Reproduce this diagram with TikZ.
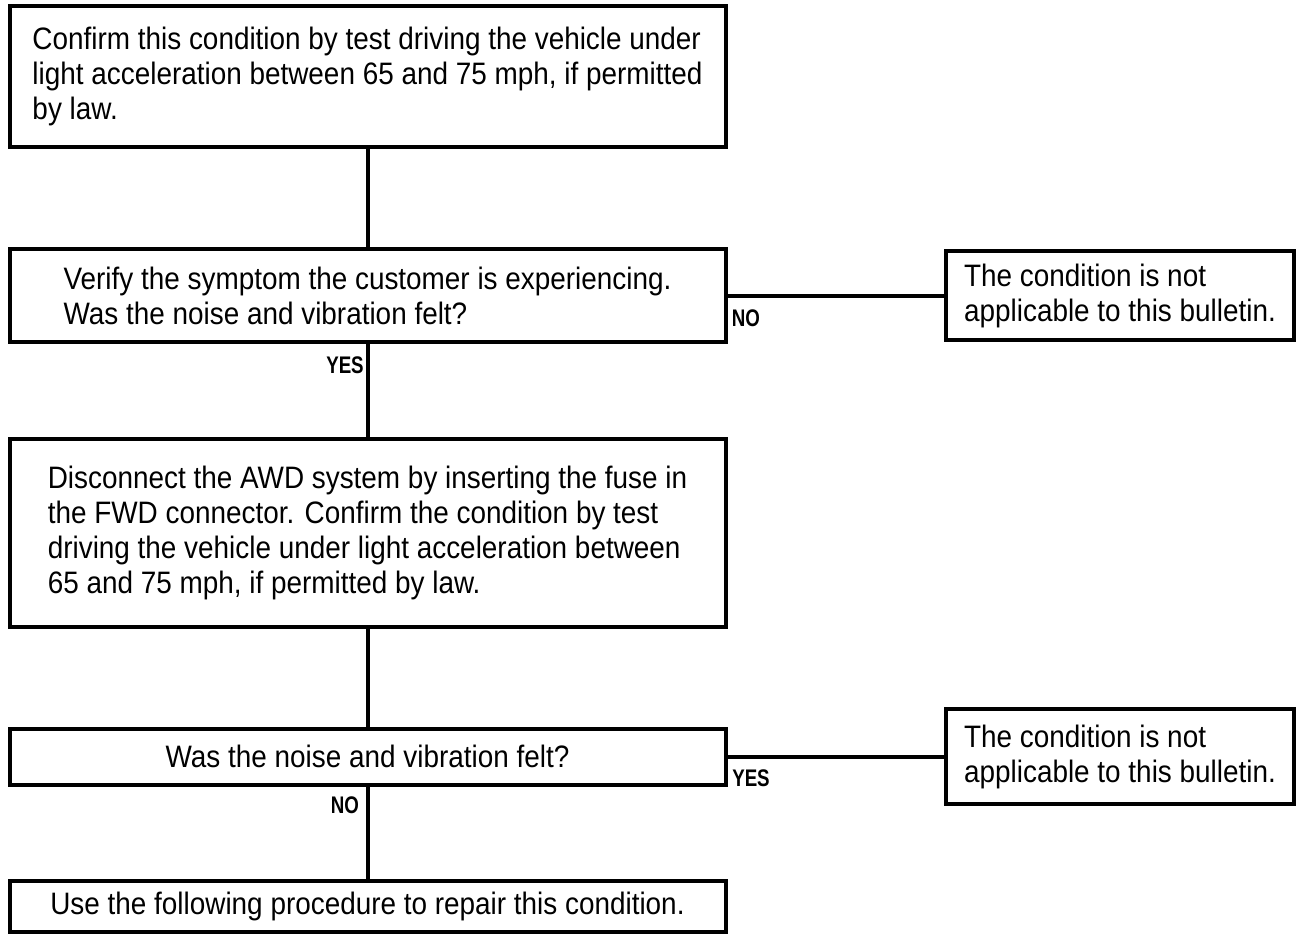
\documentclass[tikz,border=0pt]{standalone}
\usepackage{fontspec}
\setmainfont{Liberation Sans}[FakeStretch=0.9]
\newfontfamily\lblfont{Liberation Sans}[FakeStretch=0.78]
\usetikzlibrary{positioning}

\begin{document}
\begin{tikzpicture}[x=0.5pt, y=-0.5pt,
    stepbox/.style={rectangle, draw, line width=2pt, minimum width=358pt, align=left, inner sep=0pt, font=\fontsize{15.5}{17.5}\selectfont},
    sidebox/.style={stepbox, minimum width=174pt},
    lbl/.style={inner sep=0pt, font=\fontsize{12}{13}\selectfont\lblfont\bfseries},
    link/.style={line width=2pt}
]
\useasboundingbox (0,0) rectangle (1302,941);
\node[stepbox, minimum height=70.5pt] (confirm) at (367.5,76.5) {Confirm this condition by test driving the vehicle under\\light acceleration between 65 and 75 mph, if permitted\\by law.};
\node[stepbox, minimum height=46.5pt] (verify) at (367.5,296) {Verify the symptom the customer is experiencing.\\Was the noise and vibration felt?};
\node[sidebox, minimum height=44.5pt] (notapp1) at (1120,296) {The condition is not\\applicable to this bulletin.};
\node[stepbox, minimum height=94pt] (disconnect) at (367.5,533) {Disconnect the AWD system by inserting the fuse in\\the FWD connector. Confirm the condition by test\\driving the vehicle under light acceleration between\\65 and 75 mph, if permitted by law.};
\node[stepbox, minimum height=28pt] (felt) at (367.5,756.5) {Was the noise and vibration felt?};
\node[sidebox, minimum height=47.5pt] (notapp2) at (1120,756.5) {The condition is not\\applicable to this bulletin.};
\node[stepbox, minimum height=25.5pt] (repair) at (367.5,906.5) {Use the following procedure to repair this condition.};
% branch labels
\node[lbl] (no1) at (746,318) {NO};
\node[lbl] (yes1) at (345,365) {YES};
\node[lbl] (yes2) at (751,778) {YES};
\node[lbl] (no2) at (345,805) {NO};
\draw[link] (confirm) -- (verify);
\draw[link] (verify) -- (notapp1);
\draw[link] (verify) -- (disconnect);
\draw[link] (disconnect) -- (felt);
\draw[link] (felt) -- (notapp2);
\draw[link] (felt) -- (repair);
\end{tikzpicture}
\end{document}
